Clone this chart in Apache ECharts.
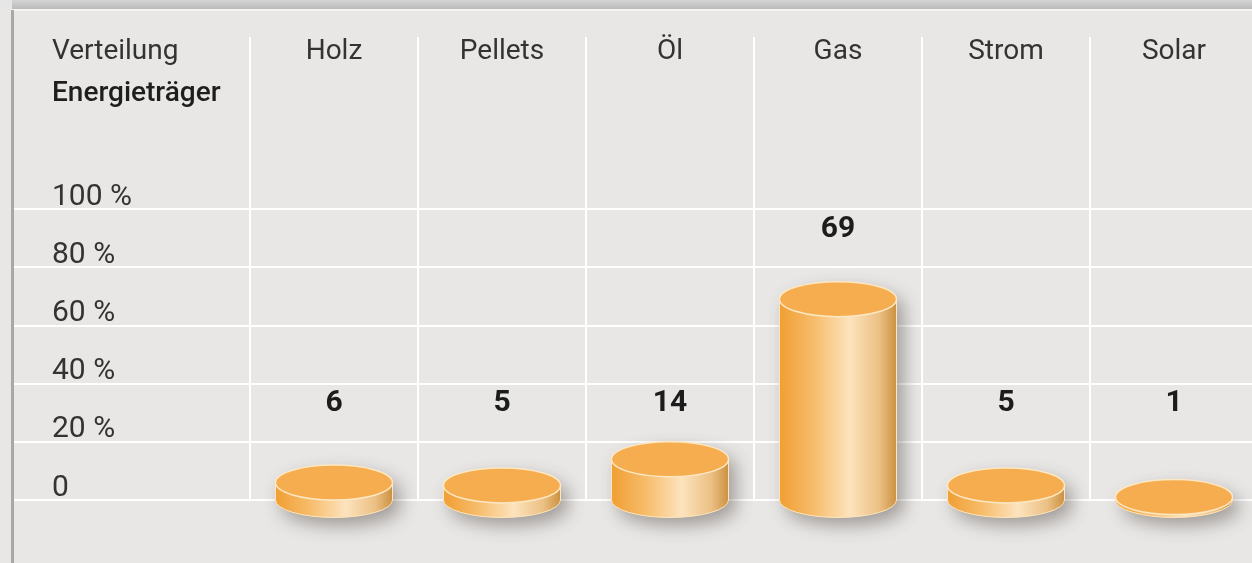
<!DOCTYPE html>
<html><head><meta charset="utf-8">
<script src="https://cdn.jsdelivr.net/npm/echarts@6/dist/echarts.min.js"></script>
<style>html,body{margin:0;padding:0;background:#e8e7e6;overflow:hidden}#c{width:1252px;height:563px}</style>
</head><body><div id="c"></div>
<script>
const categories = ['Holz', 'Pellets', 'Öl', 'Gas', 'Strom', 'Solar'];
const values = [6, 5, 14, 69, 5, 1];
const yTicks = [0, 20, 40, 60, 80, 100];
const yTickLabels = ['0', '20 %', '40 %', '60 %', '80 %', '100 %'];
const titleLine1 = 'Verteilung';
const titleLine2 = 'Energieträger';

const FONT = 'Roboto';
const chart = echarts.init(document.getElementById('c'), null, {renderer: 'canvas'});

const sideGradient = new echarts.graphic.LinearGradient(0, 0, 1, 0, [
  {offset: 0, color: '#f09e32'},
  {offset: 0.3, color: '#f7bd6c'},
  {offset: 0.6, color: '#fde3bd'},
  {offset: 0.85, color: '#ebc084'},
  {offset: 1, color: '#cb8f3e'}
]);

function renderItem(params, api) {
  const idx = api.value(0);
  const v = api.value(1);
  const base = api.coord([idx, 0]);
  const top = api.coord([idx, v]);
  const cx = base[0], by = base[1], ty = top[1];
  const rx = 58.5, ry = 17.5;
  const labelRowY = api.coord([idx, 33])[1];
  const ly = (ty - ry - 20 < labelRowY) ? ty - 70 : labelRowY;
  const sil = 'M' + (cx - rx) + ',' + ty + ' A' + rx + ',' + ry + ' 0 0 1 ' + (cx + rx) + ',' + ty +
    ' L' + (cx + rx) + ',' + by + ' A' + rx + ',' + ry + ' 0 0 1 ' + (cx - rx) + ',' + by + ' Z';
  const side = 'M' + (cx - rx) + ',' + ty + ' L' + (cx - rx) + ',' + by + ' A' + rx + ',' + ry + ' 0 0 0 ' +
    (cx + rx) + ',' + by + ' L' + (cx + rx) + ',' + ty + ' Z';
  return {
    type: 'group',
    children: [
      {type: 'path', shape: {pathData: sil}, style: {fill: '#e3a85a', shadowBlur: 18, shadowOffsetX: 7, shadowOffsetY: 8, shadowColor: 'rgba(70,60,50,0.45)'}},
      {type: 'path', shape: {pathData: side}, style: {fill: sideGradient, stroke: '#fde6bf', lineWidth: 1}},
      {type: 'ellipse', shape: {cx: cx, cy: ty, rx: rx, ry: ry}, style: {fill: '#f6ad4f', stroke: '#fde8c4', lineWidth: 1.5}},
      {type: 'text', x: cx, y: ly, style: {text: String(v), fontFamily: FONT, fontWeight: 700, fontSize: 30, fill: '#1c1c1c', align: 'center', verticalAlign: 'middle'}}
    ]
  };
}

const whiteLine = {show: true, lineStyle: {color: '#ffffff', width: 2}};

const option = {
  backgroundColor: '#e8e7e6',
  animation: false,
  textStyle: {fontFamily: FONT},
  title: {
    left: 52, top: 31, padding: 0,
    text: '{a|' + titleLine1 + '}\n{b|' + titleLine2 + '}',
    textStyle: {
      rich: {
        a: {fontFamily: FONT, fontSize: 28, fontWeight: 400, color: '#333333', lineHeight: 42},
        b: {fontFamily: FONT, fontSize: 28, fontWeight: 500, color: '#1e1e1e', lineHeight: 42}
      }
    }
  },
  graphic: [
    {type: 'rect', shape: {x: 0, y: 0, width: 1252, height: 10}, style: {fill: new echarts.graphic.LinearGradient(0, 0, 0, 1, [{offset: 0, color: '#d4d4d4'}, {offset: 1, color: '#b8b8b8'}])}, z: 10},
    {type: 'rect', shape: {x: 0, y: 0, width: 12, height: 10}, style: {fill: '#e6e6e6'}, z: 11},
    {type: 'rect', shape: {x: 12, y: 9, width: 1240, height: 2}, style: {fill: '#f4f4f4'}, z: 11},
    {type: 'rect', shape: {x: 11, y: 10, width: 3, height: 553}, style: {fill: '#a8a8a8'}, z: 11}
  ],
  grid: [
    {left: 250, width: 1008, top: 209, height: 291, containLabel: false, outerBoundsMode: 'none'},
    {left: 14, width: 236, top: 209, height: 291, containLabel: false, outerBoundsMode: 'none'},
    {left: 250, width: 1008, top: 37, height: 172, containLabel: false, outerBoundsMode: 'none'}
  ],
  xAxis: [
    {gridIndex: 0, type: 'category', data: categories, boundaryGap: true, axisLine: {show: false}, axisTick: {show: false}, axisLabel: {show: false}, splitLine: whiteLine},
    {gridIndex: 1, type: 'value', min: 0, max: 1, show: false},
    {gridIndex: 2, type: 'category', data: categories, position: 'top', boundaryGap: true, axisLine: {show: false}, axisTick: {show: false}, splitLine: whiteLine,
      axisLabel: {inside: true, margin: 1, verticalAlign: 'top', fontFamily: FONT, fontSize: 28, fontWeight: 400, color: '#333333'}}
  ],
  yAxis: [
    {gridIndex: 0, type: 'value', min: 0, max: 100, interval: 20, axisLine: {show: false}, axisTick: {show: false}, axisLabel: {show: false}, splitLine: whiteLine},
    {gridIndex: 1, type: 'value', min: 0, max: 100, interval: 20, axisLine: {show: false}, axisTick: {show: false}, splitLine: whiteLine,
      axisLabel: {inside: true, margin: 38, align: 'left', verticalAlign: 'bottom', lineHeight: 24, fontFamily: FONT, fontSize: 30, fontWeight: 400, color: '#333333',
        formatter: function (v) { const k = yTicks.indexOf(v); return k >= 0 ? yTickLabels[k] : ''; }}},
    {gridIndex: 2, type: 'value', min: 0, max: 1, show: false}
  ],
  series: [{
    type: 'custom',
    xAxisIndex: 0, yAxisIndex: 0,
    renderItem: renderItem,
    encode: {x: 0, y: 1},
    data: values.map(function (v, i) { return [i, v]; }),
    z: 5
  }]
};
chart.setOption(option);
</script></body></html>
